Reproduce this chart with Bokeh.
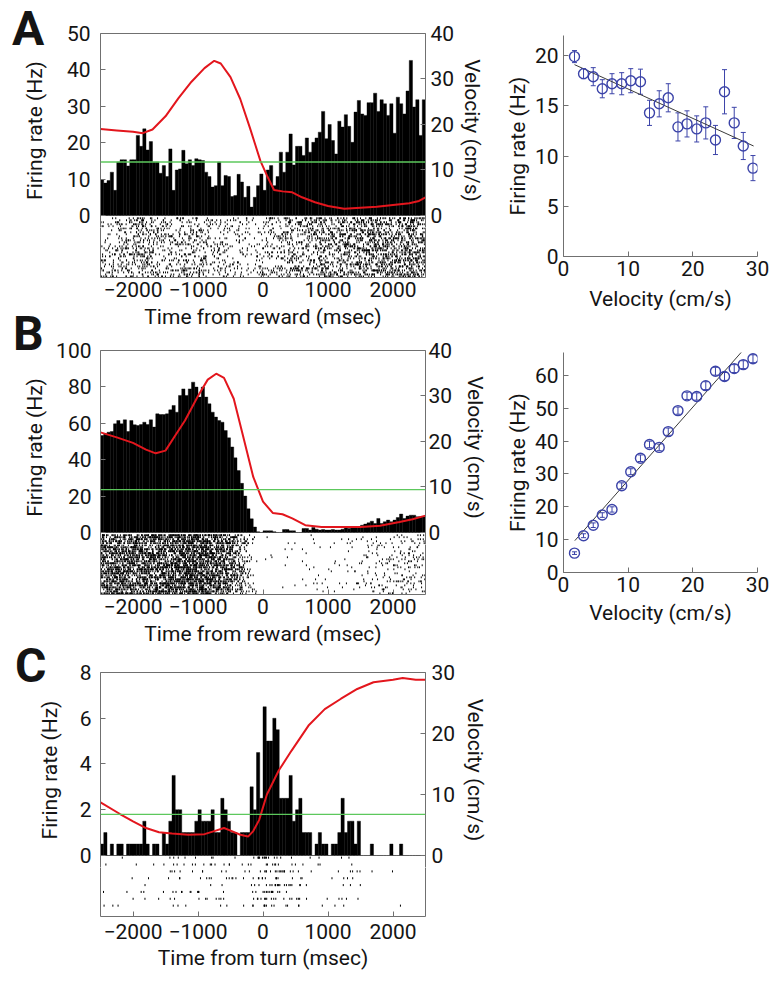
from bokeh.plotting import figure
from bokeh.models import (Range1d, LinearAxis, FixedTicker, Span, Div,
                          ColumnDataSource, Whisker, TeeHead)
from bokeh.layouts import row, column
from bokeh.embed import file_html
from bokeh.resources import INLINE

FONT = "Roboto"
AXC = "#707070"
TXT = "#141414"
RED = "#e3161d"
GREEN = "#5cc85c"
BLUE = "#3b43a8"
FS = "21px"

# ---------------- data ----------------
bin_start_ms = -2500
bin_width_ms = 50

# Panel A: peri-reward histogram (Hz), 50 ms bins from -2500 to 2500
rate_A = [9.8, 8.9, 9.6, 11.9, 6.9, 14.7, 15.3, 15.3, 13.6, 15.3,
          15.3, 22.0, 19.0, 23.8, 18.0, 20.3, 14.7, 14.7, 11.6, 13.7,
          10.7, 18.3, 6.9, 12.5, 12.8, 17.9, 14.2, 15.3, 13.7, 15.6,
          15.3, 15.1, 11.9, 10.7, 7.8, 8.2, 14.7, 8.2, 11.0, 10.7,
          5.2, 5.5, 11.3, 9.2, 5.0, 8.0, 2.3, 5.0, 8.2, 11.4,
          6.9, 12.5, 13.7, 8.2, 10.7, 17.4, 11.9, 17.4, 22.4, 13.9,
          19.0, 19.0, 16.5, 21.3, 17.4, 20.1, 21.3, 22.9, 28.6, 21.1,
          25.0, 20.6, 16.9, 25.9, 24.3, 27.7, 24.5, 20.1, 28.4, 31.6,
          27.9, 27.5, 31.0, 31.0, 33.6, 28.6, 31.8, 30.7, 27.5, 30.7,
          22.6, 32.5, 30.7, 27.9, 34.2, 42.6, 29.8, 31.8, 22.0, 31.8]
vel_t_A = [-2500, -2250, -2000, -1850, -1700, -1500, -1300, -1100, -900, -750,
           -650, -500, -350, -200, -40, 60, 170, 300, 450, 600,
           800, 1000, 1250, 1500, 1750, 2000, 2250, 2400, 2500]
vel_A = [19.0, 18.7, 18.4, 18.1, 18.9, 21.8, 25.8, 29.4, 32.4, 34.0,
         33.4, 30.4, 25.6, 19.2, 12.0, 8.8, 5.6, 5.3, 5.1, 4.0,
         2.9, 2.1, 1.5, 1.7, 1.9, 2.3, 2.7, 3.2, 4.0]
mean_rate_A = 14.7

# Panel B
rate_B = [53.3, 54.2, 55.1, 55.5, 59.7, 61.5, 59.7, 61.9, 55.5, 61.5,
          59.2, 58.8, 59.3, 60.6, 59.3, 61.9, 57.9, 65.2, 64.8, 64.8,
          65.2, 67.4, 69.8, 66.1, 75.3, 78.9, 75.3, 78.9, 82.6, 79.9,
          74.4, 79.9, 74.4, 70.7, 66.1, 63.4, 61.5, 60.6, 56.0, 52.0,
          47.0, 41.0, 34.0, 27.0, 20.0, 13.0, 7.5, 3.0, 0.4, 0.0,
          0.9, 0.9, 0.9, 0.4, 0.0, 0.0, 1.6, 1.6, 0.9, 0.9,
          0.0, 0.0, 2.2, 2.2, 1.3, 2.7, 1.8, 1.3, 1.6, 1.3,
          1.3, 1.6, 1.3, 1.3, 1.8, 2.7, 2.2, 2.7, 3.1, 2.7,
          4.0, 4.6, 5.3, 6.2, 4.9, 7.7, 4.9, 5.9, 6.8, 5.9,
          6.8, 8.2, 10.1, 7.7, 9.0, 9.5, 9.5, 8.6, 8.6, 8.6]
vel_t_B = [-2500, -2250, -2000, -1800, -1650, -1500, -1350, -1200, -1000, -850,
           -720, -600, -450, -300, -150, 0, 150, 300, 450, 650,
           900, 1200, 1500, 1800, 2100, 2300, 2500]
vel_B = [22.0, 20.9, 19.7, 18.2, 17.4, 18.0, 21.3, 24.6, 30.0, 33.6,
         34.9, 34.0, 29.4, 20.8, 12.2, 6.8, 4.3, 4.0, 3.1, 1.6,
         1.2, 1.2, 1.2, 1.5, 2.3, 2.9, 3.7]
mean_rate_B = 23.5

# Panel C: peri-turn histogram
rate_C = [0.5, 1.0, 0.0, 0.5, 0.0, 0.5, 0.5, 0.0, 0.5, 0.5,
          0.5, 0.5, 0.5, 1.5, 0.5, 0.0, 0.5, 0.5, 0.0, 1.0,
          0.5, 1.5, 3.5, 2.0, 2.0, 1.0, 1.0, 1.0, 1.0, 1.5,
          2.0, 1.5, 1.5, 1.5, 2.0, 1.0, 1.0, 2.5, 2.0, 1.5,
          1.0, 1.0, 0.0, 1.0, 1.0, 1.0, 3.0, 2.0, 4.5, 2.5,
          6.5, 5.0, 5.0, 6.0, 5.5, 2.5, 2.5, 2.5, 3.5, 1.5,
          2.0, 2.5, 1.0, 1.0, 1.0, 0.0, 0.5, 1.0, 0.5, 0.5,
          0.0, 0.5, 0.5, 1.0, 2.5, 1.0, 1.5, 1.5, 0.5, 1.5,
          0.0, 0.0, 0.0, 0.5, 0.0, 0.0, 0.0, 0.0, 0.0, 0.5,
          0.0, 0.0, 0.5, 0.0, 0.0, 0.0, 0.0, 0.0, 0.0, 0.0]
vel_t_C = [-2500, -2200, -2000, -1800, -1600, -1400, -1150, -900, -750, -600,
           -480, -350, -230, -150, -60, 60, 240, 440, 700, 950,
           1200, 1450, 1700, 2000, 2150, 2350, 2500]
vel_C = [8.7, 6.8, 5.6, 4.5, 3.8, 3.6, 3.4, 3.5, 4.0, 4.5,
         4.0, 3.4, 3.1, 4.0, 5.8, 10.0, 13.9, 17.2, 21.3, 24.0,
         25.7, 27.3, 28.4, 28.8, 29.1, 28.8, 28.8]
mean_rate_C = 1.8

# Velocity tuning (right column)
speed_bins = [1.7, 3.1, 4.6, 6.0, 7.5, 9.0, 10.4, 11.9, 13.3, 14.8,
              16.2, 17.7, 19.1, 20.6, 22.0, 23.5, 24.9, 26.4, 27.8, 29.3]
tuning_A = [19.9, 18.2, 17.9, 16.7, 17.2, 17.2, 17.5, 17.4, 14.3, 15.2,
            15.8, 12.9, 13.2, 12.7, 13.3, 11.6, 16.4, 13.3, 11.0, 8.8]
tuning_A_err = [0.6, 0.5, 0.9, 0.9, 1.0, 1.1, 1.2, 1.25, 1.25, 1.3,
                1.4, 1.4, 1.3, 1.3, 1.6, 1.45, 2.2, 1.55, 1.35, 1.25]
fit_A_x = [1.7, 29.4]
fit_A_y = [19.1, 11.0]

tuning_B = [5.9, 11.2, 14.4, 17.5, 19.2, 26.4, 30.7, 34.8, 39.0, 38.1,
            42.9, 49.3, 53.8, 53.6, 56.9, 61.3, 59.7, 62.1, 63.3, 65.1]
tuning_B_err = [0.4, 0.6, 0.7, 0.7, 0.8, 0.9, 0.9, 1.0, 1.0, 1.0,
                1.1, 1.1, 1.1, 1.1, 1.2, 1.2, 1.2, 1.2, 1.2, 1.2]
fit_B_x = [1.75, 27.6]
fit_B_y = [9.7, 67.3]

time_ticks = [-2000, -1000, 0, 1000, 2000]
time_range = (-2500, 2500)


# ---------------- helpers ----------------
def style_axis(ax, ticks, standoff, label=None, label_standoff=0):
    ax.ticker = FixedTicker(ticks=ticks)
    ax.major_tick_in = 5
    ax.major_tick_out = 0
    ax.minor_tick_line_color = None
    ax.axis_line_color = AXC
    ax.major_tick_line_color = AXC
    ax.axis_line_width = 1
    ax.major_label_text_font = FONT
    ax.major_label_text_font_size = FS
    ax.major_label_text_color = TXT
    ax.major_label_standoff = standoff
    if label is not None:
        ax.axis_label = label
        ax.axis_label_text_font = FONT
        ax.axis_label_text_font_size = FS
        ax.axis_label_text_font_style = "normal"
        ax.axis_label_text_color = TXT
        ax.axis_label_standoff = label_standoff


def base_fig(fw, fh, xr, yr, bl, br, bt, bb, x_axis=True):
    p = figure(frame_width=fw, frame_height=fh, x_range=Range1d(*xr),
               y_range=Range1d(*yr), output_backend="svg",
               toolbar_location=None,
               x_axis_location="below" if x_axis else None,
               min_border_left=bl, min_border_right=br,
               min_border_top=bt, min_border_bottom=bb,
               background_fill_color="white", border_fill_color="white")
    p.grid.visible = False
    p.outline_line_color = None
    return p


def _mix(a):
    """Integer hash used to scatter raster ticks (deterministic layout)."""
    a &= 0xFFFFFFFF
    a = (a ^ 61) ^ (a >> 16)
    a = (a + (a << 3)) & 0xFFFFFFFF
    a ^= a >> 4
    a = (a * 0x27D4EB2D) & 0xFFFFFFFF
    a ^= a >> 15
    return a


def raster_from_hist(rates, n_rows, y_top, y_bottom, spikes_per_hz,
                     tick_frac, salt):
    """Spike ticks laid out from the histogram counts of each bin."""
    xs, ya, yb = [], [], []
    row_h = (y_top - y_bottom) / n_rows
    carry = 0.0
    for b, r in enumerate(rates):
        expected = r * spikes_per_hz + carry
        k = int(round(expected))
        carry = expected - k
        left = bin_start_ms + b * bin_width_ms
        for j in range(k):
            h = _mix(salt * 7919 + b * 1009 + j * 131 + 17)
            rw = h % n_rows
            frac = ((h >> 9) & 0xFFFF) / 65536.0
            xs.append(left + frac * bin_width_ms)
            top = y_top - rw * row_h
            ya.append(top)
            yb.append(top - tick_frac * row_h)
    return xs, ya, yb


def hist_fig(rates, vt, vv, y_lo, y_max, v_lo, v_max, y_ticks, v_ticks,
             mean_rate, raster, bl, bt, fh, y_std, ylab_std, v_std, vlab_std):
    p = base_fig(325, fh, time_range, (y_lo, y_max), bl, 498 - 325 - bl, bt, 0,
                 x_axis=False)
    p.extra_y_ranges = {"vel": Range1d(v_lo, v_max)}
    vax = LinearAxis(y_range_name="vel")
    p.add_layout(vax, "right")
    top_line = LinearAxis(ticker=FixedTicker(ticks=[]))
    top_line.axis_line_color = AXC
    top_line.major_label_text_font_size = "0px"
    p.add_layout(top_line, "above")
    style_axis(p.yaxis[0], y_ticks, y_std, "Firing rate (Hz)", ylab_std)
    style_axis(vax, v_ticks, v_std, "Velocity (cm/s)", vlab_std)

    left = [bin_start_ms + i * bin_width_ms for i in range(len(rates))]
    right = [l + bin_width_ms for l in left]
    p.quad(left=left, right=right, top=rates, bottom=0,
           fill_color="black", line_color="black", line_width=0.4)
    xs, ya, yb = raster
    p.segment(x0=xs, y0=ya, x1=xs, y1=yb, line_color="black", line_width=1)
    p.add_layout(Span(location=mean_rate, dimension="width",
                      line_color=GREEN, line_width=1.3))
    p.line(vt, vv, y_range_name="vel", line_color=RED, line_width=2)
    return p


def raster_fig(raster, y_lo, y_hi, bl, fh, bb, x_std, title, title_std):
    p = base_fig(325, fh, time_range, (y_lo, y_hi), bl, 498 - 325 - bl, 0, bb)
    rax = LinearAxis()
    p.add_layout(rax, "right")
    for ax in (p.yaxis[0], rax):
        ax.ticker = FixedTicker(ticks=[])
        ax.axis_line_color = AXC
        ax.major_label_text_font_size = "0px"
        ax.minor_tick_line_color = None
    style_axis(p.xaxis[0], time_ticks, x_std, title, title_std)
    xs, ya, yb = raster
    p.segment(x0=xs, y0=ya, x1=xs, y1=yb, line_color="black", line_width=1)
    return p


def tuning_fig(xv, yv, err, fx, fy, y_max, y_ticks, bt, fh, bb, xlab_std):
    p = base_fig(194, fh, (0, 30), (0, y_max), 65, 22, bt, bb)
    style_axis(p.xaxis[0], [0, 10, 20, 30], 4, "Velocity (cm/s)", xlab_std)
    style_axis(p.yaxis[0], y_ticks, 5, "Firing rate (Hz)", 2)
    p.line(fx, fy, line_color="#3a3a3a", line_width=1)
    src = ColumnDataSource(dict(x=xv, y=yv,
                                lo=[a - e for a, e in zip(yv, err)],
                                hi=[a + e for a, e in zip(yv, err)]))
    p.add_layout(Whisker(base="x", lower="lo", upper="hi", source=src,
                         line_color=BLUE, line_width=1,
                         lower_head=TeeHead(size=5, line_color=BLUE, line_width=1),
                         upper_head=TeeHead(size=5, line_color=BLUE, line_width=1)))
    p.scatter("x", "y", source=src, marker="circle", size=10,
              fill_alpha=0, line_color=BLUE, line_width=1.4)
    return p


def letter(text, left, top):
    return Div(text=('<span style="display:block;font-family:Roboto;'
                     'font-weight:bold;font-size:48px;line-height:48px;'
                     'color:#141414">%s</span>' % text),
               margin=0,
               styles={"position": "absolute", "left": "%dpx" % left,
                       "top": "%dpx" % top})


# ---------------- left column ----------------
# The histogram frame extends a little below zero; the raster continues in a
# second plot that shares the same vertical scale.
rasterA = raster_from_hist(rate_A, 30, -0.5, -17.0, 1.6, 0.95, 1)
histA = hist_fig(rate_A, vel_t_A, vel_A, -3.3, 50, -2.64, 40,
                 [0, 10, 20, 30, 40, 50], [0, 10, 20, 30, 40], mean_rate_A,
                 rasterA, 100, 33, 194, 10, 17, 5, 3)
rasA = raster_fig(rasterA, -17.0, -3.3, 100, 50, 60, 4,
                  "Time from reward (msec)", 5)

rasterB = raster_from_hist(rate_B, 30, -1.0, -34.0, 1.5, 0.9, 2)
histB = hist_fig(rate_B, vel_t_B, vel_B, -6.6, 100, -2.64, 40,
                 [0, 20, 40, 60, 80, 100], [0, 10, 20, 30, 40], mean_rate_B,
                 rasterB, 97, 13, 194, 9, 6, 3, 8)
rasB = raster_fig(rasterB, -34.0, -6.6, 97, 50, 60, 4,
                  "Time from reward (msec)", 5)

rasterC = raster_from_hist(rate_C, 8, -0.05, -2.45, 2.0, 0.3, 3)
histC = hist_fig(rate_C, vel_t_C, vel_C, -0.525, 8, -1.97, 30,
                 [0, 2, 4, 6, 8], [0, 10, 20, 30], mean_rate_C,
                 rasterC, 97, 18, 195, 9, 15, 6, 5)
rasC = raster_fig(rasterC, -2.67, -0.525, 97, 49, 62, 7,
                  "Time from turn (msec)", 4)

# ---------------- right column ----------------
tunA = tuning_fig(speed_bins, tuning_A, tuning_A_err, fit_A_x, fit_A_y,
                  22.0, [0, 5, 10, 15, 20], 35, 221, 63, 8)
tunB = tuning_fig(speed_bins, tuning_B, tuning_B_err, fit_B_x, fit_B_y,
                  67.0, [0, 10, 20, 30, 40, 50, 60], 33, 220, 60, 6)

layout = row(column(histA, rasA, histB, rasB, histC, rasC),
             column(tunA, tunB),
             letter("A", 12, 5), letter("B", 13, 310), letter("C", 15, 642))

open("out.html", "w").write(file_html(layout, INLINE))
